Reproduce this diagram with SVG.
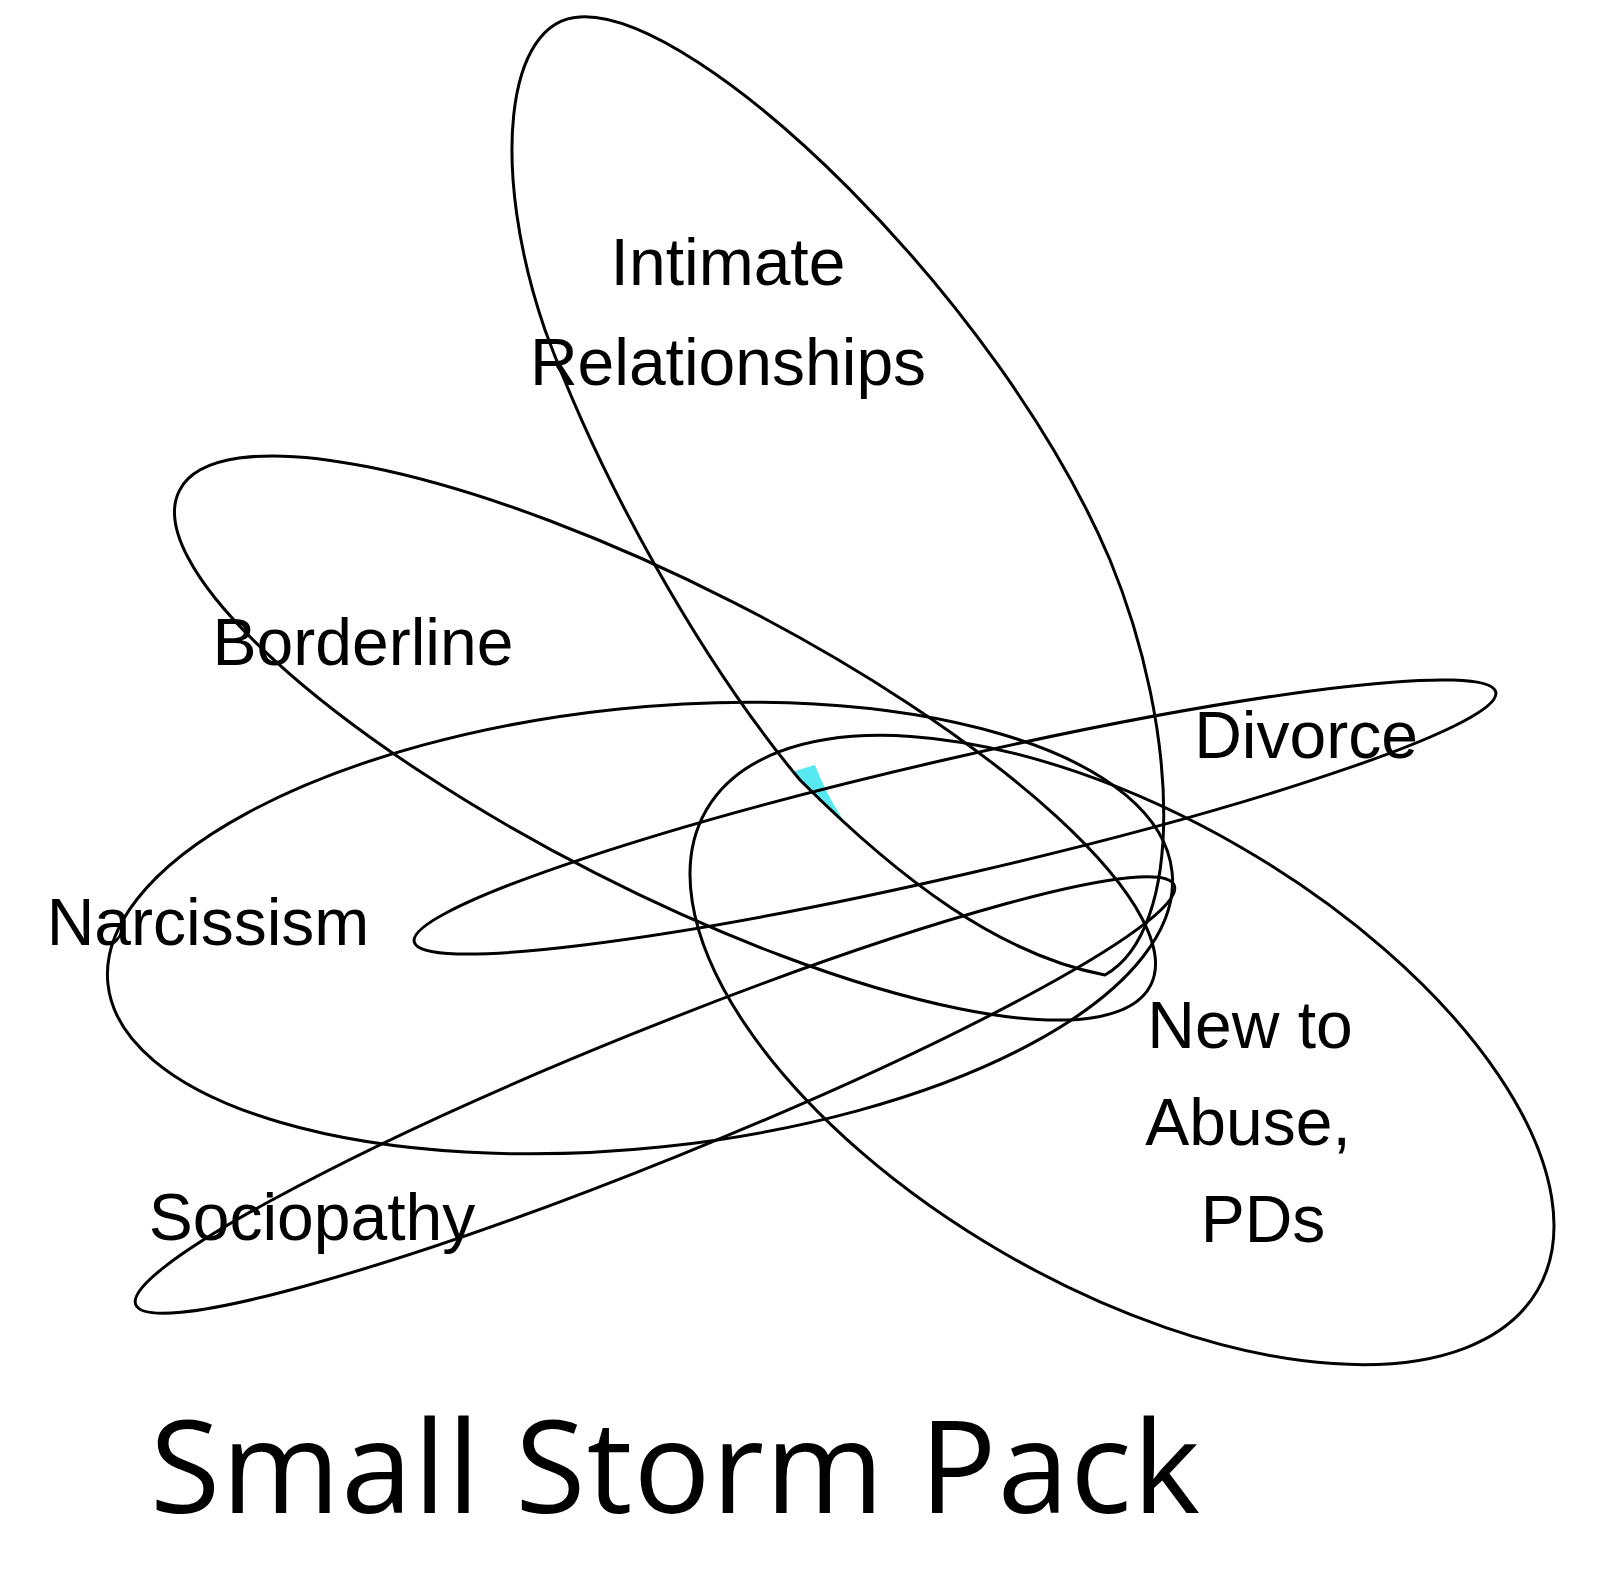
<svg xmlns="http://www.w3.org/2000/svg" width="1599" height="1593" viewBox="0 0 1599 1593">
<style>
.s{fill:none;stroke:#000;stroke-width:3}
.t{font-family:"Liberation Sans",Arial,sans-serif;font-size:66px;fill:#000;text-anchor:middle}
</style>
<defs><clipPath id="ci"><path d="M1105 975 C1000 955 900 880 800 780 C700 660 600 480 545 330 C490 170 505 20 580 17 C700 10 1000 300 1110 560 C1180 730 1185 930 1105 975 Z"/></clipPath></defs>
<rect width="1599" height="1593" fill="#fff"/>
<path clip-path="url(#ci)" d="M815 765 C740 785 690 830 692 900 L697 950 L935 903 C880 870 840 830 815 765 Z" fill="#58e8f2"/>
<g id="connectors"></g>
<g id="intimate"><path class="s" d="M1105 975 C1000 955 900 880 800 780 C700 660 600 480 545 330 C490 170 505 20 580 17 C700 10 1000 300 1110 560 C1180 730 1185 930 1105 975 Z"/><text class="t" x="728" y="285">Intimate</text><text class="t" x="728" y="385">Relationships</text></g>
<g id="borderline"><ellipse class="s" cx="665" cy="738" rx="545" ry="152" transform="rotate(27 665 738)"/><text class="t" x="363" y="665">Borderline</text></g>
<g id="narcissism"><ellipse class="s" cx="640" cy="928" rx="535" ry="220" transform="rotate(-6 640 928)"/><text class="t" x="208" y="945">Narcissism</text></g>
<g id="divorce"><ellipse class="s" cx="955" cy="817" rx="555" ry="58" transform="rotate(-13 955 817)"/><text class="t" x="1306" y="758">Divorce</text></g>
<g id="newto"><ellipse class="s" cx="1122" cy="1050" rx="480" ry="235" transform="rotate(30 1122 1050)"/><text class="t" x="1250" y="1048">New to</text><text class="t" x="1248" y="1145">Abuse,</text><text class="t" x="1263" y="1242">PDs</text></g>
<g id="sociopathy"><ellipse class="s" cx="655" cy="1095" rx="560" ry="65" transform="rotate(-22 655 1095)"/><text class="t" x="312" y="1240">Sociopathy</text></g>
<text x="675" y="1513" font-family="Open Sans,sans-serif" font-size="128" text-anchor="middle" textLength="1050">Small Storm Pack</text>
</svg>
